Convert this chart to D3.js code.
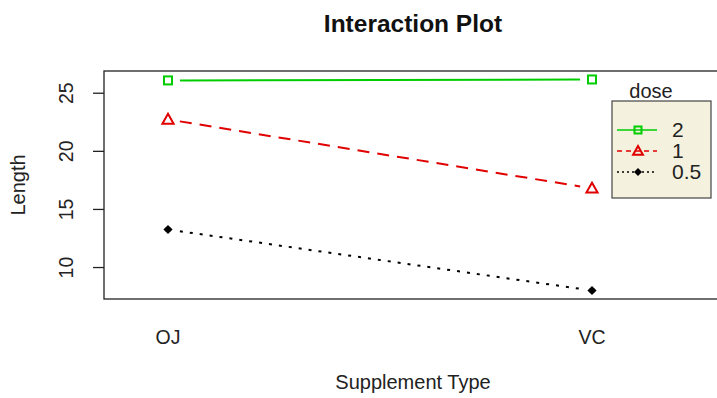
<!DOCTYPE html>
<html lang="en">
<head>
<meta charset="UTF-8">
<title>Interaction Plot</title>
<style>
  body { margin: 0; background: #fff; }
  text { font-family: "Liberation Sans", Arial, sans-serif; }
</style>
</head>
<body>
<script src="https://d3js.org/d3.v7.min.js"></script>
<script>
// data: mean tooth length by supplement and dose
const supplements = ["OJ", "VC"];
const doses = ["2", "1", "0.5"];
const dose2 = [26.06, 26.14];
const dose1 = [22.70, 16.77];
const dose05 = [13.23, 7.98];
const yTicks = [10, 15, 20, 25];

const series = [
  { name: doses[0], values: dose2, color: "#00cd00", dash: null, shape: "square" },
  { name: doses[1], values: dose1, color: "#e00000", dash: "12,8", shape: "triangle" },
  { name: doses[2], values: dose05, color: "#000000", dash: "3,7", shape: "diamond" }
];

const W = 717, H = 398;
const box = { left: 104, top: 71, right: 722, bottom: 299 };

let svg = d3.select("body").append("svg")
  .attr("width", W)
  .attr("height", H);

let x = d3.scalePoint().domain(supplements).range([168, 592]);
let y = d3.scaleLinear().domain([7.25, 26.87]).range([box.bottom, box.top]);

// plot frame
svg.append("rect")
  .attr("x", box.left).attr("y", box.top)
  .attr("width", box.right - box.left).attr("height", box.bottom - box.top)
  .attr("fill", "none").attr("stroke", "#222").attr("stroke-width", 1.3);

// y axis, rotated labels like R
let yAxis = svg.append("g")
  .attr("transform", `translate(${box.left},0)`)
  .call(d3.axisLeft(y).tickValues(yTicks).tickSize(11).tickSizeOuter(0));
yAxis.select(".domain").remove();
yAxis.selectAll(".tick line").attr("stroke", "#222").attr("stroke-width", 1.3);
yAxis.selectAll(".tick text")
  .attr("x", 0).attr("dy", 0)
  .attr("text-anchor", "middle")
  .attr("transform", "translate(-31,0) rotate(-90)")
  .attr("font-size", 19.5)
  .attr("fill", "#222");

// x tick labels (no tick marks)
svg.selectAll(".xlab").data(supplements).enter().append("text")
  .attr("class", "xlab")
  .attr("x", d => x(d)).attr("y", 344)
  .attr("text-anchor", "middle")
  .attr("font-size", 19.5)
  .attr("fill", "#222")
  .text(d => d);

// titles
svg.append("text")
  .attr("x", 413).attr("y", 32)
  .attr("text-anchor", "middle")
  .attr("font-size", 24.5).attr("font-weight", "bold")
  .attr("fill", "#111")
  .text("Interaction Plot");

svg.append("text")
  .attr("x", 413).attr("y", 389)
  .attr("text-anchor", "middle")
  .attr("font-size", 20)
  .attr("fill", "#222")
  .text("Supplement Type");

svg.append("text")
  .attr("transform", "translate(25,185) rotate(-90)")
  .attr("text-anchor", "middle")
  .attr("font-size", 20)
  .attr("fill", "#222")
  .text("Length");

function drawSymbol(g, shape, color, cx, cy, r) {
  if (shape === "square") {
    g.append("rect").attr("x", cx - r).attr("y", cy - r).attr("width", 2 * r).attr("height", 2 * r)
      .attr("fill", "none").attr("stroke", color).attr("stroke-width", 2);
  } else if (shape === "triangle") {
    let t = r * 1.4;
    g.append("path").attr("d", `M${cx},${cy - t}L${cx + t},${cy + t * 0.75}L${cx - t},${cy + t * 0.75}Z`)
      .attr("fill", "none").attr("stroke", color).attr("stroke-width", 2);
  } else {
    let d = r * 1.15;
    g.append("path").attr("d", `M${cx},${cy - d}L${cx + d},${cy}L${cx},${cy + d}L${cx - d},${cy}Z`)
      .attr("fill", color);
  }
}

// lines with gaps around the points, like type="b"
let line = d3.line().x(d => d[0]).y(d => d[1]);
series.forEach(s => {
  let pts = s.values.map((v, i) => [x(supplements[i]), y(v)]);
  let g = svg.append("g");
  let dx = pts[1][0] - pts[0][0], dy = pts[1][1] - pts[0][1];
  let len = Math.hypot(dx, dy), gap = 12;
  let a = [pts[0][0] + dx / len * gap, pts[0][1] + dy / len * gap];
  let b = [pts[1][0] - dx / len * gap, pts[1][1] - dy / len * gap];
  g.append("path").attr("d", line([a, b]))
    .attr("fill", "none").attr("stroke", s.color).attr("stroke-width", 2)
    .attr("stroke-dasharray", s.dash);
  pts.forEach(p => drawSymbol(g, s.shape, s.color, p[0], p[1], 4));
});

// legend
let lg = svg.append("g");
lg.append("rect")
  .attr("x", 612).attr("y", 101).attr("width", 99).attr("height", 97)
  .attr("fill", "#f4f2de").attr("stroke", "#444").attr("stroke-width", 1.2);
lg.append("text").attr("x", 651).attr("y", 98)
  .attr("text-anchor", "middle").attr("font-size", 20).attr("fill", "#222").text("dose");
series.forEach((s, i) => {
  let ly = 130 + i * 21;
  lg.append("line").attr("x1", 617).attr("x2", 657).attr("y1", ly).attr("y2", ly)
    .attr("stroke", s.color).attr("stroke-width", 1.3)
    .attr("stroke-dasharray", s.dash ? (s.shape === "triangle" ? "5,4" : "2,3") : null);
  drawSymbol(lg, s.shape, s.color, 638, ly, 3.5);
  lg.append("text").attr("x", 672).attr("y", ly + 7).attr("font-size", 21).attr("fill", "#222").text(s.name);
});
</script>
</body>
</html>
